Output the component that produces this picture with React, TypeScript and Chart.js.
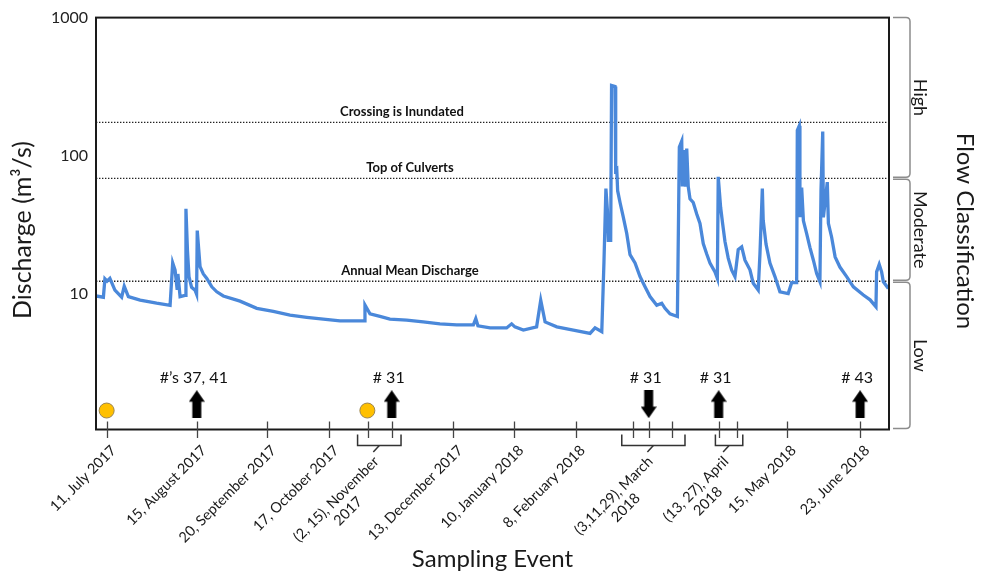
import React, { useEffect, useRef } from "react";
import { Chart, registerables } from "chart.js";

Chart.register(...registerables);

// x values are days counted from the start of the record (early July 2017)
const flowDays = [
  0, 3.4, 4.1, 5.1, 6.4, 8.7, 11.8, 13.0, 14.9, 20.3,
  27.9, 34.1, 35.3, 36.4, 37.3, 37.7, 38.7, 41.0, 41.4, 42.1,
  42.8, 44.0, 45.6, 46.3, 46.6, 47.9, 49.4, 51.0, 53.3, 55.6,
  58.6, 66.3, 74.0, 81.6, 89.3, 97.0, 104.6, 112.3, 123.4, 123.8,
  126.1, 130.7, 135.3, 143.0, 150.6, 158.3, 166.0, 173.7, 174.8, 175.8,
  181.4, 189.0, 191.3, 192.8, 196.7, 202.8, 204.7, 206.7, 212.1, 219.7,
  227.4, 229.7, 232.8, 233.8, 234.7, 235.4, 235.8, 236.9, 237.3, 238.9,
  239.2, 239.7, 240.1, 241.2, 242.7, 244.3, 245.8, 248.1, 250.4, 252.7,
  255.0, 258.1, 260.4, 261.9, 264.2, 267.6, 268.5, 269.6, 269.9, 270.4,
  271.3, 271.9, 272.6, 273.4, 274.9, 276.5, 278.0, 279.5, 281.1, 282.6,
  284.9, 286.0, 286.4, 287.5, 288.4, 289.5, 291.0, 292.6, 294.1, 295.6,
  297.2, 298.7, 301.0, 302.5, 304.8, 305.6, 306.7, 307.1, 308.4, 310.2,
  312.5, 314.8, 318.6, 320.2, 322.5, 322.8, 323.7, 324.0, 324.8, 325.6,
  327.1, 328.6, 330.2, 331.7, 333.2, 333.7, 334.5, 334.8, 336.6, 337.1,
  338.6, 340.2, 342.4, 345.5, 348.6, 353.2, 356.3, 359.0, 359.3, 360.5,
  361.6, 362.4, 364.7,
];
const flowValues = [
  9.7, 9.5, 12.9, 12.4, 13, 10.7, 9.5, 11.4, 9.6, 9.05,
  8.6, 8.3, 16.8, 14.9, 11, 14, 9.6, 9.8, 41.5, 20.7,
  13.4, 11.2, 10.7, 10, 28.8, 15.8, 14, 13, 11.3, 10.4,
  9.7, 8.9, 7.9, 7.5, 7.05, 6.8, 6.6, 6.4, 6.4, 8.34,
  7.2, 6.9, 6.6, 6.5, 6.3, 6.1, 6.0, 6.0, 6.65, 5.9,
  5.7, 5.7, 6.1, 5.8, 5.5, 5.8, 9.05, 6.3, 5.8, 5.5,
  5.2, 5.7, 5.35, 17, 58, 40, 24.5, 24.5, 323, 318,
  78.6, 80, 56, 46, 36, 27.4, 19.3, 16.8, 13.4, 11.3,
  9.6, 8.3, 8.6, 7.9, 7.2, 6.9, 116, 128, 60, 110,
  60, 113, 60, 49, 46, 38, 32.5, 23.2, 19.5, 16.8,
  14.5, 13, 70.5, 42.5, 32.6, 24, 18.2, 14.9, 13.4, 21,
  22, 17.6, 15, 12, 10.7, 19.5, 58, 34.2, 23, 16.8,
  13.4, 10.4, 10.1, 12.1, 12.1, 153, 165, 36, 59, 34,
  27.4, 21.8, 17.6, 14.1, 12.3, 56, 150, 36, 64.6, 32.5,
  25.8, 18.6, 15.7, 13.4, 11.3, 9.85, 9.1, 8.1, 14.5, 16.4,
  14.5, 12.3, 11,
];

// sampling-event tick positions (days) and their labels
const tickDays = [4.9, 46.4, 78.6, 107.4, 125.3, 136.1, 164.5, 192.5, 220.8, 247.0, 254.4, 265.0, 286.6, 294.9, 317.9, 351.7];
const labelTickIndex = [[0], [1], [2], [3], [4, 5], [6], [7], [8], [9, 10, 11], [12, 13], [14], [15]];
const labelLines = [
  ["11, July 2017"],
  ["15, August 2017"],
  ["20, September 2017"],
  ["17, October 2017"],
  ["(2, 15), November", "2017"],
  ["13, December 2017"],
  ["10, January 2018"],
  ["8, February 2018"],
  ["(3,11,29), March", "2018"],
  ["(13, 27), April", "2018"],
  ["15, May 2018"],
  ["23, June 2018"],
];
const bracketSpans = [null, null, null, null, [120.4, 140.4], null, null, null, [242.0, 271.1], [285.1, 297.7], null, null];

const refValues = [174.6, 68.8, 12.4];
const refLabels = ["Crossing is Inundated", "Top of Culverts", "Annual Mean Discharge"];
const refLabelDays = [140.8, 144.5, 144.5];

const classNames = ["High", "Moderate", "Low"];
const classEdges = [1000, 68.8, 12.4, 1.05];

const circleDays = [4.9, 124.9];
const circleValue = 1.44;
const arrowDays = [46.4, 136.1, 254.4, 286.6, 351.7];
const arrowDown = [false, false, true, false, false];
const arrowLabels = ["#\u2019s 37, 41", "# 31", "# 31", "# 31", "# 43"];
const arrowValue = 1.6;

const yTickValues = [10, 100, 1000];
const X_MIN = 0;
const X_MAX = 365;
const Y_MIN = 1.05;
const Y_MAX = 1000;

const FONT = "Lato";

function makeArrow(): HTMLCanvasElement {
  const c = document.createElement("canvas");
  c.width = 16;
  c.height = 28;
  const g = c.getContext("2d")!;
  g.fillStyle = "#000";
  g.beginPath();
  g.moveTo(8, 0);
  g.lineTo(16, 11.5);
  g.lineTo(12.5, 11.5);
  g.lineTo(12.5, 28);
  g.lineTo(3.5, 28);
  g.lineTo(3.5, 11.5);
  g.lineTo(0, 11.5);
  g.closePath();
  g.fill();
  return c;
}

const decorPlugin = {
  id: "decor",
  afterDraw(chart: any) {
    const { ctx, chartArea: a, scales } = chart;
    const xs = scales.x;
    const ys = scales.y;
    const W = chart.width;
    ctx.save();

    // frame
    ctx.strokeStyle = "#1a1a1a";
    ctx.lineWidth = 2;
    ctx.strokeRect(a.left, a.top, a.right - a.left, a.bottom - a.top);

    // tick marks crossing the x axis
    ctx.strokeStyle = "#444";
    ctx.lineWidth = 1.3;
    tickDays.forEach((d) => {
      const x = Math.round(xs.getPixelForValue(d)) + 0.5;
      ctx.beginPath();
      ctx.moveTo(x, a.bottom - 8);
      ctx.lineTo(x, a.bottom + 8.5);
      ctx.stroke();
    });

    // x tick labels + brackets
    ctx.fillStyle = "#1a1a1a";
    ctx.font = `14.5px ${FONT}`;
    const lh = 17;
    labelTickIndex.forEach((idxs, i) => {
      const lines = labelLines[i];
      let ax: number, ay: number;
      const span = bracketSpans[i];
      if (span) {
        const x0 = xs.getPixelForValue(span[0]);
        const x1 = xs.getPixelForValue(span[1]);
        const by = a.bottom + 16;
        const cx = (x0 + x1) / 2;
        ctx.strokeStyle = "#333";
        ctx.lineWidth = 1.5;
        ctx.beginPath();
        ctx.moveTo(x0, a.bottom + 5);
        ctx.lineTo(x0, by);
        ctx.lineTo(x1, by);
        ctx.lineTo(x1, a.bottom + 5);
        ctx.stroke();
        ctx.beginPath();
        ctx.moveTo(cx, by);
        ctx.lineTo(cx - 6, by + 6.5);
        ctx.stroke();
        ax = cx - 6 + 3;
        ay = by + 6.5 + 7;
      } else {
        ax = xs.getPixelForValue(tickDays[idxs[0]]) + 7;
        ay = a.bottom + 18.5;
      }
      ctx.save();
      ctx.translate(ax, ay);
      ctx.rotate(-Math.PI / 4);
      ctx.textBaseline = "middle";
      if (lines.length === 1) {
        ctx.textAlign = "right";
        ctx.fillText(lines[0], 0, 0);
      } else {
        const w1 = ctx.measureText(lines[0]).width;
        ctx.textAlign = "center";
        lines.forEach((t, k) => ctx.fillText(t, -w1 / 2, k * lh));
      }
      ctx.restore();
    });

    // reference line labels
    ctx.font = `bold 13px ${FONT}`;
    ctx.textAlign = "center";
    ctx.textBaseline = "alphabetic";
    ctx.fillStyle = "#111";
    refLabels.forEach((t, i) => {
      ctx.fillText(t, xs.getPixelForValue(refLabelDays[i]), ys.getPixelForValue(refValues[i]) - 6.5);
    });

    // arrow labels
    ctx.font = `16px ${FONT}`;
    arrowLabels.forEach((t, i) => {
      const x = xs.getPixelForValue(arrowDays[i]) - 3;
      const y = ys.getPixelForValue(arrowValue) - 21;
      ctx.fillText(t, x, y);
    });

    // flow classification brackets
    ctx.strokeStyle = "#8c8c8c";
    ctx.lineWidth = 1.5;
    const bx = a.right + 21;
    const sx = a.right + 4;
    classNames.forEach((name, i) => {
      const y0 = ys.getPixelForValue(classEdges[i]) + (i === 0 ? 0 : 1);
      const y1 = ys.getPixelForValue(classEdges[i + 1]) - 1;
      ctx.beginPath();
      ctx.moveTo(sx, y0);
      ctx.lineTo(bx - 4, y0);
      ctx.quadraticCurveTo(bx, y0, bx, y0 + 4);
      ctx.lineTo(bx, y1 - 4);
      ctx.quadraticCurveTo(bx, y1, bx - 4, y1);
      ctx.lineTo(sx, y1);
      ctx.stroke();
      ctx.save();
      ctx.translate(a.right + 25, (y0 + y1) / 2);
      ctx.rotate(Math.PI / 2);
      ctx.font = `18px ${FONT}`;
      ctx.fillStyle = "#1a1a1a";
      ctx.textAlign = "center";
      ctx.textBaseline = "alphabetic";
      ctx.fillText(name, 0, 0);
      ctx.restore();
    });

    // titles
    ctx.fillStyle = "#1a1a1a";
    ctx.font = `24px ${FONT}`;
    ctx.textAlign = "center";
    ctx.textBaseline = "alphabetic";
    ctx.fillText("Sampling Event", (a.left + a.right) / 2, 566.5);

    ctx.save();
    ctx.font = `25px ${FONT}`;
    ctx.translate(31, 230);
    ctx.rotate(-Math.PI / 2);
    ctx.fillText("Discharge (m\u00b3/s)", 0, 0);
    ctx.restore();

    ctx.save();
    ctx.translate(W - 26, 231);
    ctx.rotate(Math.PI / 2);
    ctx.fillText("Flow Classification", 0, 0);
    ctx.restore();

    ctx.restore();
  },
};

export default function App() {
  const ref = useRef<HTMLCanvasElement>(null);
  useEffect(() => {
    document.body.style.margin = "0";
    const arrow = makeArrow();
    const refDatasets = refValues.map((v) => ({
      type: "line" as const,
      data: [
        { x: X_MIN, y: v },
        { x: X_MAX, y: v },
      ],
      borderColor: "#222",
      borderWidth: 1.4,
      borderDash: [1.4, 1.6],
      pointRadius: 0,
      order: 3,
    }));
    const chart = new Chart(ref.current!, {
      type: "line",
      data: {
        datasets: [
          {
            data: flowDays.map((d, i) => ({ x: d, y: flowValues[i] })),
            borderColor: "#4A88DA",
            borderWidth: 3.3,
            pointRadius: 0,
            tension: 0,
            order: 1,
          },
          ...refDatasets,
          {
            data: circleDays.map((d) => ({ x: d, y: circleValue })),
            showLine: false,
            pointRadius: 7.5,
            pointBackgroundColor: "#FFC000",
            pointBorderColor: "#9a8450",
            pointBorderWidth: 1,
            order: 0,
          },
          {
            data: arrowDays.map((d) => ({ x: d, y: arrowValue })),
            showLine: false,
            pointStyle: arrow as any,
            pointRotation: arrowDown.map((dn) => (dn ? 180 : 0)),
            pointRadius: 8,
            order: 0,
          },
        ] as any,
      },
      options: {
        responsive: false,
        animation: false,
        events: [],
        layout: { padding: { top: 17, right: 94, left: 0, bottom: 0 } },
        plugins: { legend: { display: false }, tooltip: { enabled: false } },
        scales: {
          x: {
            type: "linear",
            min: X_MIN,
            max: X_MAX,
            grid: { display: false, drawTicks: false },
            border: { display: false },
            ticks: { display: false },
            afterBuildTicks: (s: any) => {
              s.ticks = tickDays.map((v) => ({ value: v }));
            },
            afterFit: (s: any) => {
              s.height = 144.5;
            },
          },
          y: {
            type: "logarithmic",
            min: Y_MIN,
            max: Y_MAX,
            grid: { display: false, drawTicks: false },
            border: { display: false },
            ticks: {
              padding: 8,
              color: "#222",
              font: { family: FONT, size: 16 },
              callback: (v: any) => String(v),
            },
            afterBuildTicks: (s: any) => {
              s.ticks = yTickValues.map((v) => ({ value: v }));
            },
            afterFit: (s: any) => {
              s.width = 96;
            },
          },
        },
      },
      plugins: [decorPlugin],
    } as any);
    return () => chart.destroy();
  }, []);
  return (
    <div style={{ width: 983, height: 574 }}>
      <canvas ref={ref} width={983} height={574} style={{ width: 983, height: 574, display: "block" }} />
    </div>
  );
}
